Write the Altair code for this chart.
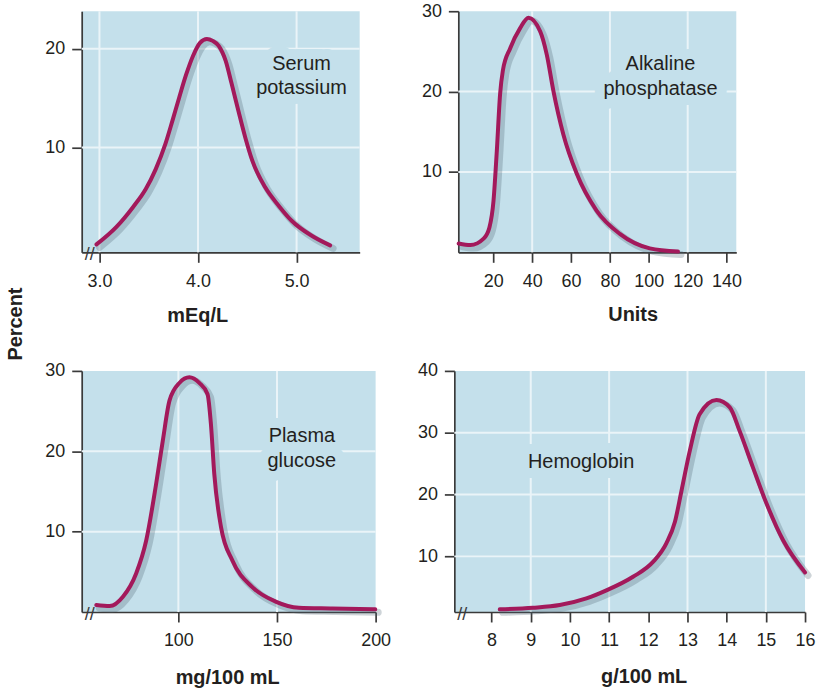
import altair as alt
import pandas as pd

# ---------------- data ----------------
# Serum potassium (mEq/L)
k_x = [2.97, 3.17, 3.34, 3.47, 3.57, 3.67, 3.74, 3.81, 3.88, 3.95, 4.02, 4.09, 4.15, 4.21, 4.28,
       4.34, 4.41, 4.48, 4.55, 4.68, 4.82, 4.95, 5.15, 5.34]
k_y = [0.2, 1.95, 3.97, 5.8, 7.8, 10.4, 12.7, 15.1, 17.4, 19.3, 20.6, 21.0, 20.8, 20.3, 18.8,
       16.5, 13.7, 11.0, 8.7, 6.0, 4.1, 2.6, 1.1, 0.1]

# Alkaline phosphatase (Units)
alp_x = [2.2, 8.2, 15, 18, 20.1, 21.8, 23.5, 24.9, 28.7, 33.8, 38.1, 44.1, 47.5, 50.9, 56, 62.9, 73.1, 85.1, 100.5, 115]
alp_y = [1.1, 0.9, 1.7, 3.1, 6.4, 12.6, 19.7, 22.6, 25.4, 27.9, 29.2, 27.5, 24.6, 20.1, 14.7, 9.8, 5.2, 2.3, 0.5, 0.1]

# Plasma glucose (mg/100 mL)
glu_x = [58.4, 65.2, 71.9, 78.6, 83.7, 88.7, 92.1, 95.5, 100.5, 105.6, 110.6, 114.8, 116.5, 118.2, 121.6, 127.4, 137.5, 149.3, 161.1, 178, 199.8]
glu_y = [0.87, 0.74, 1.9, 4.8, 8.9, 15.9, 21.3, 26.3, 28.5, 29.2, 28.5, 27.1, 23.4, 17.2, 10.6, 6.4, 3.1, 1.3, 0.54, 0.45, 0.33]

# Hemoglobin (g/100 mL)
hb_x = [8.21, 9.06, 9.74, 10.42, 10.93, 11.61, 12.12, 12.46, 12.68, 12.85, 13.06, 13.31, 13.74, 14.08, 14.33, 14.67, 15.02, 15.44, 16.0]
hb_y = [1.43, 1.69, 2.13, 3.2, 4.5, 6.7, 9.1, 12.1, 15.6, 20.7, 27.1, 33.0, 35.3, 34.1, 30.3, 24.4, 18.5, 12.6, 7.4]

# tick labels and grid lines
k_xticks = [3.0, 4.0, 5.0]
k_yticks = [10, 20]
k_gridx = [3.0, 4.0, 5.0]
k_gridy = [10, 20]

alp_xticks = [20, 40, 60, 80, 100, 120, 140]
alp_yticks = [10, 20, 30]
alp_gridx = [40, 80, 120]
alp_gridy = [10, 20]

glu_xticks = [100, 150, 200]
glu_yticks = [10, 20, 30]
glu_gridx = [100, 150]
glu_gridy = [10, 20]

hb_xticks = [8, 9, 10, 11, 12, 13, 14, 15, 16]
hb_yticks = [10, 20, 30, 40]
hb_gridx = [9, 11, 13, 15]
hb_gridy = [10, 20, 30]

# ---------------- styles ----------------
BG = "#c4e0eb"
GRID = "#eaf4f8"
CURVE = "#a3195b"
SHADOW = "#4f6572"
AXIS = "#3a3a3a"
TEXT = "#231f20"
FONT = "Liberation Sans"
SHADOW_PX = 3


def panel(xs, ys, xdom, ydom, xticks, yticks, gx, gy, w, h, fmt,
          title, title_x, title_y, lines, lx, ly, align, brk):
    df = pd.DataFrame({"x": xs, "y": ys})
    xscale = alt.Scale(domain=xdom, nice=False, zero=False)
    yscale = alt.Scale(domain=ydom, nice=False, zero=False)
    sdx = SHADOW_PX * (xdom[1] - xdom[0]) / w
    sdy = SHADOW_PX * (ydom[1] - ydom[0]) / h

    xaxis = alt.Axis(values=xticks, format=fmt, title=title, titleX=title_x,
                     titleY=title_y, titleBaseline="alphabetic", titleAlign="center",
                     titleAngle=0, labelFontSize=18)
    yaxis = alt.Axis(values=yticks, format="d", title=None, labelFontSize=18)

    def X(f):
        return alt.X(f, scale=xscale, axis=xaxis)

    def Y(f):
        return alt.Y(f, scale=yscale, axis=yaxis)

    gridx = alt.Chart(pd.DataFrame({"g": gx})).mark_rule(
        color=GRID, strokeWidth=2).encode(x=X("g:Q"))
    gridy = alt.Chart(pd.DataFrame({"g": gy})).mark_rule(
        color=GRID, strokeWidth=2).encode(y=Y("g:Q"))

    lab = pd.DataFrame({"lx": [lx], "ly": [ly]})
    halo = alt.Chart(lab).mark_text(
        text=lines, font=FONT, fontSize=20, lineHeight=25, align=align,
        baseline="middle", fill=BG, stroke=BG, strokeWidth=20, strokeJoin="round"
    ).encode(x=X("lx:Q"), y=Y("ly:Q"))
    label = alt.Chart(lab).mark_text(
        text=lines, font=FONT, fontSize=20, lineHeight=25, align=align,
        baseline="middle", color=TEXT
    ).encode(x=X("lx:Q"), y=Y("ly:Q"))

    shadow = alt.Chart(df).transform_calculate(
        sx=f"datum.x + {sdx}", sy=f"datum.y - {sdy}"
    ).mark_line(color=SHADOW, opacity=0.28, strokeWidth=7, interpolate="monotone",
                strokeCap="round", strokeJoin="round").encode(
        x=X("sx:Q"), y=Y("sy:Q"))

    line = alt.Chart(df).mark_line(
        color=CURVE, strokeWidth=4, interpolate="monotone",
        strokeCap="round", strokeJoin="round").encode(x=X("x:Q"), y=Y("y:Q"))

    layers = [gridx, gridy, halo, shadow, line, label]
    if brk:
        layers.append(
            alt.Chart(pd.DataFrame({"t": ["//"]})).mark_text(
                text="//", font=FONT, fontSize=18, color=AXIS,
                align="center", baseline="middle"
            ).encode(x=alt.value(8), y=alt.value(h + 3)))
    return alt.layer(*layers).properties(width=w, height=h)


pA = panel(k_x, k_y, [2.82, 5.64], [-0.6, 23.8], k_xticks, k_yticks, k_gridx, k_gridy,
           279, 242, ".1f", "mEq/L", 116, 69, ["Serum", "potassium"], 5.05, 18.5,
           "center", True)
pB = panel(alp_x, alp_y, [2, 145], [0, 30], alp_xticks, alp_yticks, alp_gridx, alp_gridy,
           279, 242, "d", "Units", 175, 68, ["Alkaline", "phosphatase"], 106, 23.4,
           "center", False)
pC = panel(glu_x, glu_y, [51, 200], [0, 30], glu_xticks, glu_yticks, glu_gridx, glu_gridy,
           295, 242, "d", "mg/100 mL", 146, 72, ["Plasma", "glucose"], 162.6, 21.9,
           "center", True)
pD = panel(hb_x, hb_y, [7.05, 16], [1, 40], hb_xticks, hb_yticks, hb_gridx, hb_gridy,
           352, 242, "d", "g/100 mL", 190, 71, ["Hemoglobin"], 8.93, 25.2,
           "left", True)

top = alt.hconcat(pA, pB, spacing=60)
bottom = alt.hconcat(pC, pD, spacing=25)

chart = alt.vconcat(top, bottom, spacing=37).properties(
    title=alt.TitleParams(text="Percent", orient="left", anchor="middle", font=FONT,
                          fontSize=20, fontWeight="bold", color=TEXT, offset=19, dx=21),
    padding={"left": 5, "top": 1, "right": 0, "bottom": 0}
).configure_view(
    fill=BG, stroke=None
).configure_axis(
    domainColor=AXIS, domainWidth=1.7, tickColor=AXIS, tickWidth=1.7, tickSize=10,
    labelFont=FONT, labelFontSize=18, labelColor=TEXT, labelFlush=False,
    labelOverlap=False, titleFont=FONT, titleFontSize=20, titleFontWeight="bold",
    titleColor=TEXT, grid=False
).configure_axisX(
    labelBaseline="alphabetic", labelPadding=24
).configure_axisY(
    labelBaseline="middle", labelPadding=7
)

chart.save("out.html", embed_options={"renderer": "svg", "actions": False})
